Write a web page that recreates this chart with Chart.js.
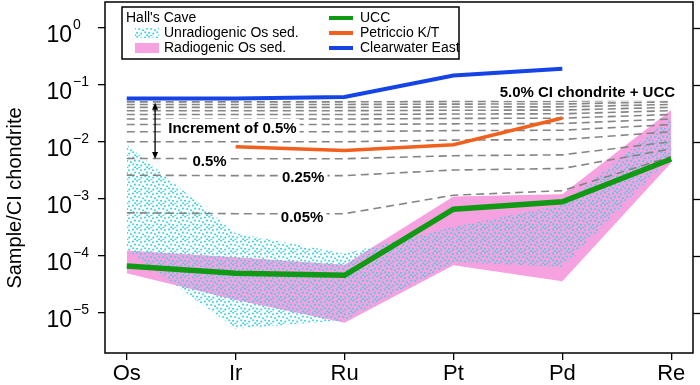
<!DOCTYPE html>
<html>
<head>
<meta charset="utf-8">
<script src="https://cdn.jsdelivr.net/npm/chart.js@4.4.0/dist/chart.umd.min.js"></script>
<style>
  html, body { margin: 0; padding: 0; background: #fff; }
  #wrap { width: 700px; height: 385px; }
</style>
</head>
<body>
<div id="wrap"><canvas id="chart" width="700" height="385"></canvas></div>
<script>
const elements = ['Os', 'Ir', 'Ru', 'Pt', 'Pd', 'Re'];
const yTicks = [1e0, 1e-1, 1e-2, 1e-3, 1e-4, 1e-5];

// lines
const ucc = [6.7e-5, 5.0e-5, 4.6e-5, 6.6e-4, 8.9e-4, 5.0e-3];
const petriccio = [null, 8.2e-3, 7.0e-3, 8.9e-3, 2.6e-2, null];
const clearwater = [5.7e-2, 5.7e-2, 6.1e-2, 1.45e-1, 1.9e-1, null];

// Hall's Cave ranges
const radiogenicHigh = [1.25e-4, 9.5e-5, 7.0e-5, 1.1e-3, 1.2e-3, 3.6e-2];
const radiogenicLow = [5.0e-5, 1.7e-5, 6.8e-6, 6.9e-5, 3.6e-5, 4.3e-3];
const unradiogenicHigh = [8.9e-3, 2.5e-4, 1.1e-4, 3.2e-4, 7.9e-4, 2.7e-2];
const unradiogenicLow = [1.3e-4, 5.3e-6, 7.5e-6, 7.8e-5, 6.5e-5, 5.5e-3];

// CI chondrite + UCC mixing lines (0.05%, 0.25%, 0.5%, then 1.0% .. 5.0%)
const mix005 = [5.7e-4, 5.5e-4, 5.5e-4, 1.16e-3, 1.39e-3, 5.5e-3];
const mix025 = [2.6e-3, 2.55e-3, 2.55e-3, 3.2e-3, 3.4e-3, 7.5e-3];
const mix050 = [5.1e-3, 5.05e-3, 5.05e-3, 5.7e-3, 5.9e-3, 1.0e-2];
const mix100 = [1.0e-2, 1.0e-2, 1.0e-2, 1.07e-2, 1.09e-2, 1.5e-2];
const mix150 = [1.5e-2, 1.5e-2, 1.5e-2, 1.57e-2, 1.59e-2, 2.0e-2];
const mix200 = [2.0e-2, 2.0e-2, 2.0e-2, 2.06e-2, 2.09e-2, 2.5e-2];
const mix250 = [2.5e-2, 2.5e-2, 2.5e-2, 2.56e-2, 2.59e-2, 3.0e-2];
const mix300 = [3.0e-2, 3.0e-2, 3.0e-2, 3.06e-2, 3.09e-2, 3.5e-2];
const mix350 = [3.5e-2, 3.5e-2, 3.5e-2, 3.56e-2, 3.59e-2, 4.0e-2];
const mix400 = [4.0e-2, 4.0e-2, 4.0e-2, 4.06e-2, 4.09e-2, 4.5e-2];
const mix450 = [4.5e-2, 4.5e-2, 4.5e-2, 4.56e-2, 4.59e-2, 5.0e-2];
const mix500 = [5.0e-2, 5.0e-2, 5.0e-2, 5.06e-2, 5.09e-2, 5.5e-2];
const mixLines = [mix005, mix025, mix050, mix100, mix150, mix200, mix250, mix300, mix350, mix400, mix450, mix500];

const FONT = '"Liberation Sans", Arial, Helvetica, sans-serif';
const PINK = '#f6a2e0';
const CYAN = '#3ed4e6';
const GREEN = '#109a14';
const ORANGE = '#f2601e';
const BLUE = '#1443e6';

function pts(vals) {
  return vals.map((v, i) => ({ x: i, y: v }));
}

// irregular cyan stipple
function dotPattern() {
  const c = document.createElement('canvas');
  c.width = 12; c.height = 12;
  const g = c.getContext('2d');
  g.fillStyle = CYAN;
  [[1, 1.5], [5.2, 0.8], [9, 2.2], [3, 4.6], [7.2, 5], [11, 6.2], [1.2, 8.2], [5, 8.8], [9.2, 9.6], [3.2, 11.2], [7.4, 11.8]]
    .forEach(([px, py]) => {
      g.beginPath();
      g.arc(px, py, 1.05, 0, Math.PI * 2);
      g.fill();
    });
  return g.createPattern(c, 'repeat');
}
const dots = dotPattern();

const base = { pointRadius: 0, tension: 0, fill: false };

const datasets = [
  { ...base, data: pts(radiogenicHigh), borderWidth: 0, backgroundColor: PINK, fill: '+1', order: 20 },
  { ...base, data: pts(radiogenicLow), borderWidth: 0, order: 21 },
  { ...base, data: pts(unradiogenicHigh), borderWidth: 0, backgroundColor: dots, fill: '+1', order: 18 },
  { ...base, data: pts(unradiogenicLow), borderWidth: 0, order: 19 },
];
mixLines.forEach(vals => {
  datasets.push({ ...base, data: pts(vals), borderColor: '#858585', borderWidth: 1.6, borderDash: [8, 5], order: 10 });
});
datasets.push({ ...base, data: pts(petriccio), borderColor: ORANGE, borderWidth: 3.5, order: 3 });
datasets.push({ ...base, data: pts(clearwater), borderColor: BLUE, borderWidth: 4, order: 2 });
datasets.push({ ...base, data: pts(ucc), borderColor: GREEN, borderWidth: 5.5, order: 1 });

const notes = [
  { text: '5.0% CI chondrite + UCC', x: 4.23, y: 0.075 },
  { text: 'Increment of 0.5%', x: 0.97, y: 0.0176 },
  { text: '0.5%', x: 0.76, y: 0.0047 },
  { text: '0.25%', x: 1.62, y: 0.0024 },
  { text: '0.05%', x: 1.61, y: 4.8e-4 },
];

const decor = {
  id: 'decor',
  afterDatasetsDraw(chart) {
    const { ctx, scales: { x, y } } = chart;
    ctx.save();
    // annotations with white backing
    ctx.font = 'bold 15px ' + FONT;
    ctx.textAlign = 'center';
    ctx.textBaseline = 'middle';
    notes.forEach(n => {
      const cx = x.getPixelForValue(n.x);
      const cy = y.getPixelForValue(n.y);
      const w = ctx.measureText(n.text).width;
      ctx.fillStyle = '#fff';
      ctx.fillRect(cx - w / 2 - 3, cy - 9, w + 6, 18);
      ctx.fillStyle = '#000';
      ctx.fillText(n.text, cx, cy + 1);
    });

    // double arrow
    const ax = x.getPixelForValue(0.26);
    const y1 = y.getPixelForValue(0.048);
    const y2 = y.getPixelForValue(0.005);
    ctx.strokeStyle = '#000';
    ctx.fillStyle = '#000';
    ctx.lineWidth = 1.3;
    ctx.beginPath();
    ctx.moveTo(ax, y1 + 4);
    ctx.lineTo(ax, y2 - 4);
    ctx.stroke();
    ctx.beginPath();
    ctx.moveTo(ax, y1); ctx.lineTo(ax - 3, y1 + 7); ctx.lineTo(ax + 3, y1 + 7); ctx.closePath();
    ctx.moveTo(ax, y2); ctx.lineTo(ax - 3, y2 - 7); ctx.lineTo(ax + 3, y2 - 7); ctx.closePath();
    ctx.fill();
    ctx.restore();
  },
  afterDraw(chart) {
    const { ctx, chartArea: a, scales: { y } } = chart;
    ctx.save();
    // frame
    ctx.strokeStyle = '#000';
    ctx.lineWidth = 1.5;
    ctx.strokeRect(a.left, a.top, a.right - a.left, a.bottom - a.top);

    // right ticks + left labels
    ctx.lineWidth = 1.3;
    yTicks.forEach(v => {
      const py = Math.round(y.getPixelForValue(v)) + 0.5;
      ctx.beginPath();
      ctx.moveTo(a.right, py);
      ctx.lineTo(a.right + 7, py);
      ctx.stroke();

      const e = Math.round(Math.log10(v));
      ctx.fillStyle = '#000';
      ctx.textBaseline = 'alphabetic';
      ctx.textAlign = 'right';
      ctx.font = '23px ' + FONT;
      ctx.fillText('10', 72, py + 13);
      ctx.textAlign = 'left';
      ctx.font = '14px ' + FONT;
      ctx.fillText(e === 0 ? '0' : '\u2212' + Math.abs(e), 73, py);
    });

    // y title
    ctx.save();
    ctx.translate(15, 198);
    ctx.rotate(-Math.PI / 2);
    ctx.textAlign = 'center';
    ctx.textBaseline = 'middle';
    ctx.font = '20px ' + FONT;
    ctx.fillText('Sample/CI chondrite', 0, 0);
    ctx.restore();

    // legend
    ctx.fillStyle = '#fff';
    ctx.fillRect(122, 7, 337, 52);
    ctx.strokeStyle = '#000';
    ctx.lineWidth = 1.5;
    ctx.strokeRect(122, 7, 337, 52);
    ctx.font = '14px ' + FONT;
    ctx.fillStyle = '#000';
    ctx.textAlign = 'left';
    ctx.textBaseline = 'middle';
    ctx.fillText("Hall's Cave", 126, 18);
    ctx.fillText('Unradiogenic Os sed.', 164, 33);
    ctx.fillText('Radiogenic Os sed.', 164, 48);
    ctx.fillStyle = dots;
    ctx.fillRect(135, 28, 24, 10);
    ctx.fillStyle = PINK;
    ctx.fillRect(135, 43, 24, 10);
    [[GREEN, 'UCC', 18], [ORANGE, 'Petriccio K/T', 33], [BLUE, 'Clearwater East', 48]].forEach(([c, t, ly]) => {
      ctx.strokeStyle = c;
      ctx.lineWidth = 4;
      ctx.beginPath();
      ctx.moveTo(329, ly);
      ctx.lineTo(353, ly);
      ctx.stroke();
      ctx.fillStyle = '#000';
      ctx.fillText(t, 360, ly);
    });
    ctx.restore();
  }
};

new Chart(document.getElementById('chart'), {
  type: 'line',
  data: { datasets },
  options: {
    responsive: false,
    animation: false,
    layout: { padding: { top: 2, right: 7, left: 0, bottom: 0 } },
    plugins: { legend: { display: false }, tooltip: { enabled: false } },
    scales: {
      x: {
        type: 'linear',
        min: -0.2,
        max: 5.2,
        afterBuildTicks: s => { s.ticks = elements.map((_, i) => ({ value: i })); },
        afterFit: s => { s.height = 32; },
        border: { display: false },
        grid: { drawOnChartArea: false, drawTicks: true, tickLength: 7, color: '#000', lineWidth: 1.3 },
        ticks: {
          autoSkip: false,
          maxRotation: 0,
          padding: 1,
          color: '#000',
          font: { family: FONT, size: 22 },
          callback: v => elements[v]
        }
      },
      y: {
        type: 'logarithmic',
        min: 2e-6,
        max: 2.8,
        afterBuildTicks: s => { s.ticks = yTicks.map(v => ({ value: v })); },
        afterFit: s => { s.width = 105; },
        border: { display: false },
        grid: { drawOnChartArea: false, drawTicks: true, tickLength: 7, color: '#000', lineWidth: 1.3 },
        ticks: { display: false, autoSkip: false }
      }
    }
  },
  plugins: [decor]
});
</script>
</body>
</html>
